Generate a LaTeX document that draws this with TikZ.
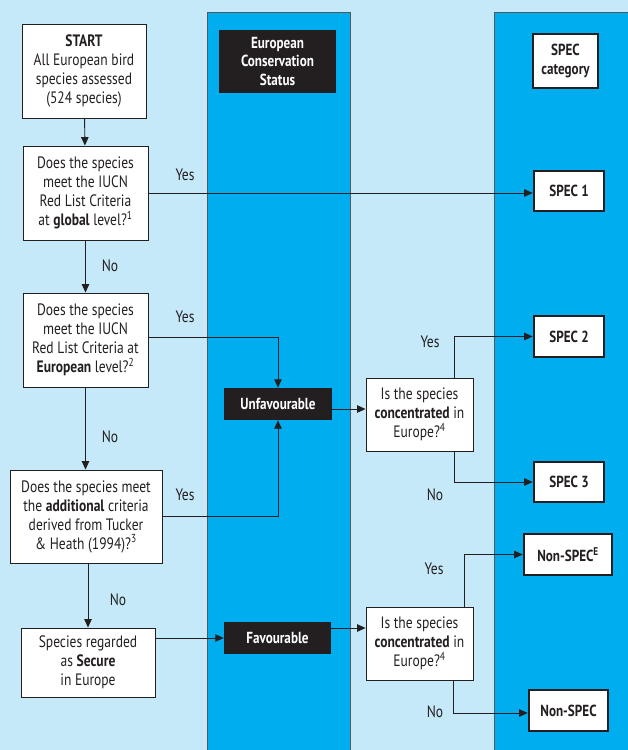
\documentclass[tikz,border=0pt]{standalone}
\usepackage{fontspec}
\setmainfont{PT Sans}[FakeStretch=0.82]
\usetikzlibrary{arrows.meta}
\definecolor{bgl}{HTML}{C6E9F9}
\definecolor{bgd}{HTML}{00AEEF}
\definecolor{ink}{HTML}{231F20}
\begin{document}
\begin{tikzpicture}[x=1pt,y=-1pt,
 qbox/.style={draw=ink, fill=white, line width=0.9pt, align=center, inner sep=0pt, text=ink,
   font=\fontsize{16.5}{19}\selectfont},
 blk/.style={fill=ink, text=white, align=center, inner sep=0pt, font=\fontsize{16}{18.5}\selectfont\bfseries},
 specbox/.style={draw=ink, fill=white, line width=2.6pt, align=center, inner sep=0pt, text=ink,
   font=\fontsize{16}{19}\selectfont\bfseries},
 arr/.style={draw=ink, line width=0.9pt, -{Triangle[length=8.5pt,width=7.5pt]}},
 lbl/.style={text=ink, font=\fontsize{16.5}{19}\selectfont, inner sep=0pt}]
\useasboundingbox (0,0) rectangle (628,750);
\clip (0,0) rectangle (628,750);
\fill[bgl] (0,0) rectangle (628,750);
\filldraw[fill=bgd, draw=ink!75, line width=0.8pt] (207,12) rectangle (350,760);
\filldraw[fill=bgd, draw=ink!75, line width=0.8pt] (494,12) rectangle (640,760);

% left column
\node[qbox, minimum width=124, minimum height=94] (start) at (84,71)
  {\textbf{START}\\All European bird\\species assessed\\(524 species)};
\node[qbox, minimum width=125, minimum height=94] (q1) at (85.5,193)
  {Does the species\\meet the IUCN\\Red List Criteria\\at \textbf{global} level?\textsuperscript{1}};
\node[qbox, minimum width=125, minimum height=94] (q2) at (85.5,340)
  {Does the species\\meet the IUCN\\Red List Criteria at\\\textbf{European} level?\textsuperscript{2}};
\node[qbox, minimum width=152, minimum height=93] (q3) at (86,516.5)
  {Does the species meet\\the \textbf{additional} criteria\\derived from Tucker\\\& Heath (1994)?\textsuperscript{3}};
\node[qbox, minimum width=134, minimum height=69] (sec) at (88,662.5)
  {Species regarded\\as \textbf{Secure}\\in Europe};

% middle column
\node[blk, minimum width=117, minimum height=63] (ecs) at (277.5,61.5)
  {European\\Conservation\\Status};
\node[blk, minimum width=108, minimum height=32] (unf) at (278,404) {Unfavourable};
\node[blk, minimum width=107, minimum height=32] (fav) at (277.5,638) {Favourable};

% concentrated questions
\node[qbox, minimum width=107, minimum height=73] (q4) at (419.5,414.5)
  {Is the species\\\textbf{concentrated} in\\Europe?\textsuperscript{4}};
\node[qbox, minimum width=107, minimum height=73] (q5) at (419.5,643.5)
  {Is the species\\\textbf{concentrated} in\\Europe?\textsuperscript{4}};

% SPEC column
\node[specbox, minimum width=65, minimum height=54] (cat) at (565.5,61) {SPEC\\category};
\node[specbox, minimum width=70, minimum height=40] (s1) at (569,191) {SPEC 1};
\node[specbox, minimum width=70, minimum height=41] (s2) at (569,336.5) {SPEC 2};
\node[specbox, minimum width=70, minimum height=40] (s3) at (569,482) {SPEC 3};
\node[specbox, minimum width=88, minimum height=41] (nse) at (568,554.5) {Non-SPEC\textsuperscript{E}};
\node[specbox, minimum width=79, minimum height=41] (ns) at (568.5,710.5) {Non-SPEC};

% connectors
\draw[arr] (start) -- (q1);
\draw[arr] (q1.east) -- (q1.east -| s1.west);
\draw[arr] (q1) -- (q2);
\draw[arr] ([yshift=3pt]q2.east) -| (unf.north);
\draw[arr] (q2) -- (q2.south |- q3.north);
\draw[arr] (q3.east) -| (unf.south);
\draw[arr] ([xshift=2pt]q3.south) -- ([xshift=2pt]q3.south |- sec.north);
\draw[arr] ([yshift=24.5pt]sec.east) -- ([yshift=24.5pt]sec.east -| fav.west);
\draw[arr] ([yshift=-5pt]unf.east) -- ([yshift=-5pt]unf.east -| q4.west);
\draw[arr] ([yshift=10pt]fav.east) -- ([yshift=10pt]fav.east -| q5.west);
\draw[arr] ([xshift=34.5pt]q4.north) |- (s2.west);
\draw[arr] ([xshift=34.5pt]q4.south) |- (s3.west);
\draw[arr] ([xshift=44.5pt]q5.north) |- (nse.west);
\draw[arr] ([xshift=33.5pt]q5.south) |- ([yshift=-2.5pt]ns.west);

% labels
\node[lbl] (y1) at (185,175) {Yes};
\node[lbl] (n1) at (110,266) {No};
\node[lbl] (y2) at (185,317) {Yes};
\node[lbl] (n2) at (110,437) {No};
\node[lbl] (y3) at (185,495) {Yes};
\node[lbl] (n3) at (118,600) {No};
\node[lbl] (y4) at (430,342) {Yes};
\node[lbl] (n4) at (435,495) {No};
\node[lbl] (y5) at (434,569) {Yes};
\node[lbl] (n5) at (435,712) {No};
\end{tikzpicture}
\end{document}
